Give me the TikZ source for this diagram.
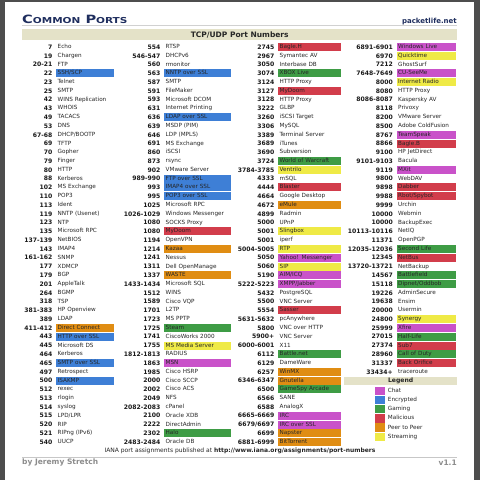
\documentclass[tikz,border=0pt]{standalone}
\usepackage{fontspec}
\setmainfont{DejaVu Sans}
\newfontfamily\titlefont[FakeStretch=1.28]{DejaVu Sans Bold}
\usetikzlibrary{positioning}
\definecolor{chat}{HTML}{C952C9}
\definecolor{crypt}{HTML}{3E7FD6}
\definecolor{game}{HTML}{3E9C45}
\definecolor{bad}{HTML}{D23D4B}
\definecolor{ptp}{HTML}{E08D13}
\definecolor{stream}{HTML}{EFEA46}
\definecolor{navy}{HTML}{1F2E5E}
\definecolor{band}{HTML}{E4E2C8}
\definecolor{frame}{HTML}{4D4D4D}

\begin{document}
\begin{tikzpicture}[x=1pt, y=-1pt,
  num/.style={anchor=east, inner sep=0pt, text=black!90,
    font=\fontsize{6.1}{6.1}\selectfont\bfseries},
  entry/.style={fill=#1, anchor=west, inner xsep=1.5pt, inner ysep=0pt, align=left,
    minimum height=8pt, text height=4.2pt, text depth=1.2pt, text=black!85,
    font=\fontsize{5.7}{5.7}\selectfont},
  swatch/.style={fill=#1, minimum width=10pt, minimum height=8.3pt, inner sep=0pt},
  node distance=3.5pt]
\useasboundingbox (0,0) rectangle (480,480);
\fill[frame] (0,0) rectangle (480,480);
\fill[white] (5,2) rectangle (474,480);

\node[anchor=base west, inner sep=0pt, text=navy] (title) at (22,23.3)
  {\titlefont{\fontsize{11.4}{12}\selectfont C}{\fontsize{8.2}{9}\selectfont OMMON}%
   {\fontsize{11.4}{12}\selectfont\ P}{\fontsize{8.2}{9}\selectfont ORTS}};
\node[anchor=base east, inner sep=0pt, text=navy,
  font=\fontsize{7}{7}\selectfont\bfseries] (site) at (457,23) {packetlife.net};
\draw[black!18, line width=0.8pt] (22,25.5) -- (457,25.5);
\node[fill=band, anchor=north west, inner sep=0pt, minimum width=435pt,
  minimum height=11pt, text=black!85, font=\fontsize{7.5}{7.5}\selectfont\bfseries]
  (head) at (22,29) {TCP/UDP Port Numbers};

\foreach \n/\s/\c [count=\i] in {7/Echo/none, 19/Chargen/none, 20-21/FTP/none,
  22/{SSH/SCP}/crypt, 23/Telnet/none, 25/SMTP/none, 42/WINS Replication/none,
  43/WHOIS/none, 49/TACACS/none, 53/DNS/none, 67-68/{DHCP/BOOTP}/none,
  69/TFTP/none, 70/Gopher/none, 79/Finger/none, 80/HTTP/none, 88/Kerberos/none,
  102/MS Exchange/none, 110/POP3/none, 113/Ident/none, 119/NNTP (Usenet)/none,
  123/NTP/none, 135/Microsoft RPC/none, 137-139/NetBIOS/none, 143/IMAP4/none,
  161-162/SNMP/none, 177/XDMCP/none, 179/BGP/none, 201/AppleTalk/none,
  264/BGMP/none, 318/TSP/none, 381-383/HP Openview/none, 389/LDAP/none,
  411-412/Direct Connect/ptp, 443/HTTP over SSL/crypt, 445/Microsoft DS/none,
  464/Kerberos/none, 465/SMTP over SSL/crypt, 497/Retrospect/none,
  500/ISAKMP/crypt, 512/rexec/none, 513/rlogin/none, 514/syslog/none,
  515/{LPD/LPR}/none, 520/RIP/none, 521/RIPng (IPv6)/none, 540/UUCP/none}
{
  \node[num] (a\i) at (52.5,{47+8.78*(\i-1)}) {\n};
  \node[entry=\c, text width=55pt, right=of a\i] (an\i) {\s};
}

\foreach \n/\s/\c [count=\i] in {554/RTSP/none, 546-547/DHCPv6/none,
  560/rmonitor/none, 563/NNTP over SSL/crypt, 587/SMTP/none, 591/FileMaker/none,
  593/Microsoft DCOM/none, 631/Internet Printing/none, 636/LDAP over SSL/crypt,
  639/MSDP (PIM)/none, 646/LDP (MPLS)/none, 691/MS Exchange/none,
  860/iSCSI/none, 873/rsync/none, 902/VMware Server/none,
  989-990/FTP over SSL/crypt, 993/IMAP4 over SSL/crypt, 995/POP3 over SSL/crypt,
  1025/Microsoft RPC/none, 1026-1029/Windows Messenger/none,
  1080/SOCKS Proxy/none, 1080/MyDoom/bad, 1194/OpenVPN/none, 1214/Kazaa/ptp,
  1241/Nessus/none, 1311/Dell OpenManage/none, 1337/WASTE/ptp,
  1433-1434/Microsoft SQL/none, 1512/WINS/none, 1589/Cisco VQP/none,
  1701/L2TP/none, 1723/MS PPTP/none, 1725/Steam/game, 1741/CiscoWorks 2000/none,
  1755/MS Media Server/stream, 1812-1813/RADIUS/none, 1863/MSN/chat,
  1985/Cisco HSRP/none, 2000/Cisco SCCP/none, 2002/Cisco ACS/none,
  2049/NFS/none, 2082-2083/cPanel/none, 2100/Oracle XDB/none,
  2222/DirectAdmin/none, 2302/Halo/game, 2483-2484/Oracle DB/none}
{
  \node[num] (b\i) at (160.5,{47+8.78*(\i-1)}) {\n};
  \node[entry=\c, text width=64pt, right=of b\i] (bn\i) {\s};
}

\foreach \n/\s/\c [count=\i] in {2745/Bagle.H/bad, 2967/Symantec AV/none,
  3050/Interbase DB/none, 3074/XBOX Live/game, 3124/HTTP Proxy/none,
  3127/MyDoom/bad, 3128/HTTP Proxy/none, 3222/GLBP/none, 3260/iSCSI Target/none,
  3306/MySQL/none, 3389/Terminal Server/none, 3689/iTunes/none,
  3690/Subversion/none, 3724/World of Warcraft/game, 3784-3785/Ventrilo/stream,
  4333/mSQL/none, 4444/Blaster/bad, 4664/Google Desktop/none, 4672/eMule/ptp,
  4899/Radmin/none, 5000/UPnP/none, 5001/Slingbox/stream, 5001/iperf/none,
  5004-5005/RTP/stream, 5050/Yahoo! Messenger/chat, 5060/SIP/stream,
  5190/{AIM/ICQ}/chat, 5222-5223/{XMPP/Jabber}/chat, 5432/PostgreSQL/none,
  5500/VNC Server/none, 5554/Sasser/bad, 5631-5632/pcAnywhere/none,
  5800/VNC over HTTP/none, 5900+/VNC Server/none, 6000-6001/X11/none,
  6112/Battle.net/game, 6129/DameWare/none, 6257/WinMX/ptp,
  6346-6347/Gnutella/ptp, 6500/GameSpy Arcade/game, 6566/SANE/none,
  6588/AnalogX/none, 6665-6669/IRC/chat, {6679/6697}/IRC over SSL/chat,
  6699/Napster/ptp, 6881-6999/BitTorrent/ptp}
{
  \node[num] (c\i) at (274.5,{47+8.78*(\i-1)}) {\n};
  \node[entry=\c, text width=60pt, right=of c\i] (cn\i) {\s};
}

\foreach \n/\s/\c [count=\i] in {6891-6901/Windows Live/chat,
  6970/Quicktime/stream, 7212/GhostSurf/none, 7648-7649/CU-SeeMe/chat,
  8000/Internet Radio/stream, 8080/HTTP Proxy/none, 8086-8087/Kaspersky AV/none,
  8118/Privoxy/none, 8200/VMware Server/none, 8500/Adobe ColdFusion/none,
  8767/TeamSpeak/chat, 8866/Bagle.B/bad, 9100/HP JetDirect/none,
  9101-9103/Bacula/none, 9119/MXit/chat, 9800/WebDAV/none, 9898/Dabber/bad,
  9988/{Rbot/Spybot}/bad, 9999/Urchin/none, 10000/Webmin/none,
  10000/BackupExec/none, 10113-10116/NetIQ/none, 11371/OpenPGP/none,
  12035-12036/Second Life/game, 12345/NetBus/bad, 13720-13721/NetBackup/none,
  14567/Battlefield/game, 15118/{Dipnet/Oddbob}/game, 19226/AdminSecure/none,
  19638/Ensim/none, 20000/Usermin/none, 24800/Synergy/stream, 25999/Xfire/chat,
  27015/Half-Life/game, 27374/Sub7/bad, 28960/Call of Duty/game,
  31337/Back Orifice/bad, 33434+/traceroute/none}
{
  \node[num] (d\i) at (393,{47+8.78*(\i-1)}) {\n};
  \node[entry=\c, text width=56pt, right=of d\i] (dn\i) {\s};
}

\node[fill=band, anchor=west, inner sep=0pt, minimum width=113pt,
  minimum height=8.5pt, text=black!85, font=\fontsize{6.1}{6.1}\selectfont\bfseries]
  (legend) at (344,380.8) {Legend};
\foreach \c/\t [count=\i] in {chat/Chat, crypt/Encrypted, game/Gaming,
  bad/Malicious, ptp/Peer to Peer, stream/Streaming}
{
  \node[swatch=\c] (sw\i) at (380,{390.8+9.2*(\i-1)}) {};
  \node[entry=none, right=1pt of sw\i] (lg\i) {\t};
}

\node[text=black!85, inner sep=0pt, font=\fontsize{6}{6}\selectfont] (iana) at (240,451)
  {IANA port assignments published at \textbf{http://www.iana.org/assignments/port-numbers}};
\draw[black!22, line width=0.6pt] (22,457.5) -- (457,457.5);
\node[anchor=west, inner sep=0pt, text=black!45,
  font=\fontsize{7.5}{7.5}\selectfont\bfseries] (author) at (22,462.5) {by Jeremy Stretch};
\node[anchor=east, inner sep=0pt, text=black!45,
  font=\fontsize{7.5}{7.5}\selectfont\bfseries] (version) at (457,462.5) {v1.1};
\end{tikzpicture}
\end{document}
